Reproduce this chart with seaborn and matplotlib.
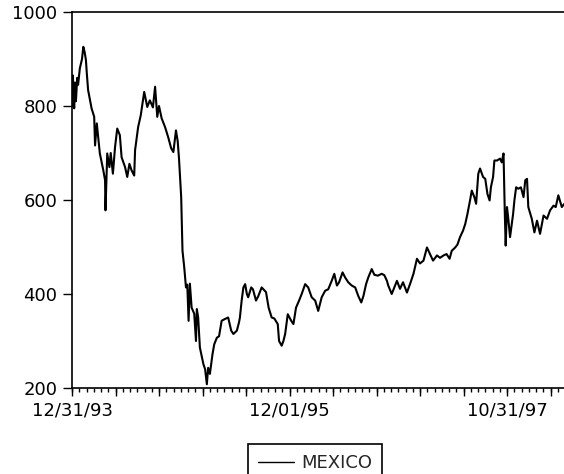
import matplotlib
matplotlib.use('Agg')
import matplotlib.pyplot as plt
import seaborn as sns
import pandas as pd

obs = [0, 2, 5, 7, 9, 12, 14, 18, 23, 26, 29, 32, 34, 37, 41, 45, 51, 53, 57, 61,
       64, 72, 76, 77, 81, 86, 89, 94, 99, 104, 110, 114, 122, 127, 132, 137, 143, 145, 152, 158,
       166, 173, 179, 186, 191, 196, 200, 206, 214, 221, 228, 233, 239, 243, 246, 251, 254, 258, 262, 265,
       268, 271, 275, 281, 285, 287, 290, 294, 302, 306, 310, 313, 317, 323, 327, 333, 338, 344, 352, 359,
       366, 371, 379, 384, 386, 390, 394, 398, 402, 405, 412, 416, 423, 428, 436, 446, 452, 459, 465, 473,
       476, 482, 486, 490, 496, 504, 509, 515, 522, 528, 536, 543, 551, 559, 566, 574, 582, 589, 597, 603,
       609, 614, 622, 628, 635, 643, 651, 658, 665, 670, 676, 681, 689, 695, 703, 712, 718, 724, 727, 735,
       741, 747, 754, 761, 770, 777, 785, 793, 800, 808, 816, 823, 830, 839, 846, 854, 861, 868, 873, 881,
       886, 892, 899, 904, 909, 915, 919, 925, 929, 934, 938, 945, 950, 955, 960, 963, 968, 971, 977, 984,
       988, 992, 995, 997, 1000, 1003, 1007, 1014, 1017, 1021, 1026, 1032, 1038, 1042, 1046, 1049, 1057, 1063, 1069, 1076,
       1084, 1092, 1099, 1107, 1112, 1118, 1126, 1132]

mexico = [800, 865, 795, 850, 810, 860, 845, 880, 900, 926, 915, 898, 870, 834, 815, 795, 777, 716, 763, 727,
          699, 663, 642, 578, 699, 670, 700, 656, 713, 752, 738, 691, 670, 649, 677, 663, 652, 706, 755, 780,
          830, 798, 812, 797, 841, 777, 800, 774, 755, 734, 710, 702, 748, 725, 688, 606, 492, 457, 414, 420,
          343, 422, 371, 358, 300, 368, 350, 286, 251, 240, 208, 243, 230, 272, 293, 307, 310, 343, 347, 350,
          322, 315, 322, 340, 350, 386, 414, 421, 400, 393, 414, 410, 386, 395, 414, 404, 371, 350, 348, 336,
          300, 290, 300, 315, 357, 343, 336, 371, 386, 400, 421, 414, 393, 386, 364, 393, 407, 410, 428, 443,
          418, 425, 446, 435, 425, 418, 414, 396, 382, 396, 421, 435, 453, 441, 439, 443, 440, 428, 418, 400,
          414, 428, 411, 425, 403, 421, 443, 475, 465, 471, 499, 485, 471, 482, 477, 482, 485, 475, 492, 499,
          505, 521, 535, 549, 570, 599, 620, 606, 592, 656, 667, 649, 645, 613, 599, 627, 649, 684, 684, 688,
          680, 699, 570, 503, 585, 560, 521, 570, 599, 627, 624, 627, 606, 642, 645, 585, 560, 531, 556, 528,
          567, 560, 578, 588, 585, 610, 585, 592]

tick_labels = {0: '12/31/93', 500: '12/01/95', 1000: '10/31/97'}

df = pd.DataFrame({'obs': obs, 'MEXICO': mexico})

sns.set_style('ticks')
plt.rcParams['font.family'] = ['DejaVu Sans']

fig = plt.figure(figsize=(5.64, 4.74), dpi=100)
ax = fig.add_axes([72 / 564, 86 / 474, 528 / 564, 376 / 474])

sns.lineplot(data=df, x='obs', y='MEXICO', ax=ax, color='black', lw=1.5,
             label='MEXICO', legend=False)

ax.set_xlim(0, 528 / 0.435)
ax.set_ylim(200, 1000)
ax.set_yticks([200, 400, 600, 800, 1000])

# short ticks every 1/6 of a major step, labels at the dated observations
small = [i * 100 / 6 for i in range(73)]
ax.set_xticks(small)
ax.set_xticklabels([tick_labels.get(round(t), '') if i % 6 == 0 else ''
                    for i, t in enumerate(small)])
ax.set_xlabel('')
ax.set_ylabel('')

# long ticks every 100 observations
sec = ax.secondary_xaxis('bottom')
sec.set_xticks(range(0, 1201, 100))
sec.set_xticklabels([])
sec.tick_params(axis='x', direction='out', length=5.8, width=1, color='black')
sec.spines['bottom'].set_visible(False)

for s in ['left', 'top', 'bottom']:
    ax.spines[s].set_linewidth(1.2)
    ax.spines[s].set_color('black')
ax.spines['right'].set_visible(False)

ax.tick_params(axis='y', direction='out', length=6.5, width=1, pad=4, labelsize=13, colors='black')
ax.tick_params(axis='x', direction='out', length=3.2, width=1, pad=6.5, labelsize=13, colors='black')

leg = fig.legend(handles=ax.get_lines()[:1], labels=['MEXICO'], loc='upper left',
                 bbox_to_anchor=(248 / 564, 30 / 474), borderaxespad=0, fontsize=13,
                 fancybox=False, shadow=False, framealpha=1, borderpad=0.55,
                 handlelength=2.0, handletextpad=0.4)
leg.get_frame().set_edgecolor('black')
leg.get_frame().set_linewidth(1.2)
leg.get_lines()[0].set_linewidth(1.0)

fig.savefig('out.png', dpi=100)
